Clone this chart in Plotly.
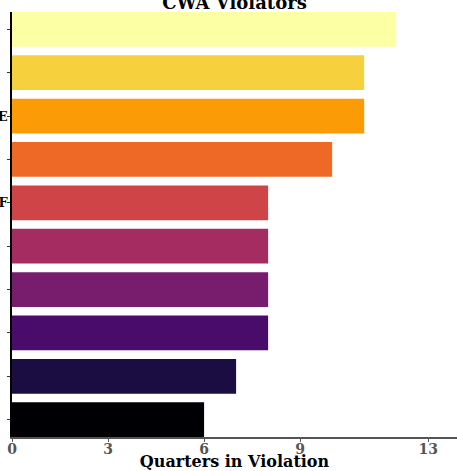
import plotly.graph_objects as go

# Facilities, top to bottom (labels are mostly cut off by the left edge in the reference)
facilities = [
    "NORTHSIDE WASTEWATER PLANT\u00a0\u00a0\u00a0",
    "RIVERBEND UTILITY DISTRICT\u00a0\u00a0\u00a0",
    "EASTGATE WATER RECLAMATION FACILITY SITE",
    "LAKEVIEW SEWAGE TREATMENT WORKS\u00a0\u00a0\u00a0",
    "PINE HILL WATER TREATMENT PLANT OUTFALL F",
    "SOUTH VALLEY MUNICIPAL WWTP\u00a0\u00a0\u00a0",
    "HARBOR POINT INDUSTRIAL PARK\u00a0\u00a0\u00a0",
    "MILLBROOK CHEMICAL COMPANY\u00a0\u00a0\u00a0",
    "WESTFIELD PAPER MILL\u00a0\u00a0\u00a0",
    "CEDAR CREEK POWER STATION\u00a0\u00a0\u00a0",
]
quarters = [12, 11, 11, 10, 8, 8, 8, 8, 7, 6]
colors = ["#fcffa4", "#f7d13d", "#fb9b06", "#ed6925", "#cf4446",
          "#a52c60", "#781c6d", "#4a0c6b", "#1b0c41", "#000004"]
x_ticks = [0, 3, 6, 9, 13]

fig = go.Figure(go.Bar(
    x=quarters,
    y=facilities,
    orientation="h",
    marker=dict(color=colors, line=dict(width=0)),
    width=0.8,
))

serif = "DejaVu Serif"
fig.update_layout(
    width=457, height=471,
    margin=dict(l=12, r=0, t=12, b=34),
    plot_bgcolor="white",
    paper_bgcolor="white",
    showlegend=False,
    title=dict(
        text="<b>CWA Violators</b>",
        font=dict(family=serif, size=18, color="black"),
        x=0.5, xref="paper", xanchor="center",
        y=0.981, yref="container", yanchor="bottom", pad=dict(b=0),
    ),
    xaxis=dict(
        range=[0, 13.9],
        tickmode="array", tickvals=x_ticks,
        ticktext=[f"<b>{t}</b>" for t in x_ticks],
        tickfont=dict(family=serif, size=14, color="#555555"),
        ticks="outside", ticklen=3, tickcolor="#555555",
        ticklabelstandoff=-5,
        showline=True, linecolor="#555555", linewidth=1.5,
        showgrid=False, zeroline=False,
        title=dict(text="<b>Quarters in Violation</b>",
                   font=dict(family=serif, size=16, color="black"),
                   standoff=2),
        automargin=False,
    ),
    yaxis=dict(
        type="category",
        range=[9.4, -0.4],
        tickfont=dict(family=serif, size=13, color="black"),
        ticktext=[f"<b>{f}</b>" for f in facilities],
        tickvals=facilities,
        ticks="outside", ticklen=3, tickcolor="#333333",
        ticklabelstandoff=-3,
        showline=True, linecolor="black", linewidth=1.5,
        showgrid=False, zeroline=False,
        automargin=False,
    ),
)

fig.write_html(
    "out.html",
    config={"displayModeBar": False},
    post_script="document.body.style.margin='0';document.body.style.overflow='hidden';",
)
